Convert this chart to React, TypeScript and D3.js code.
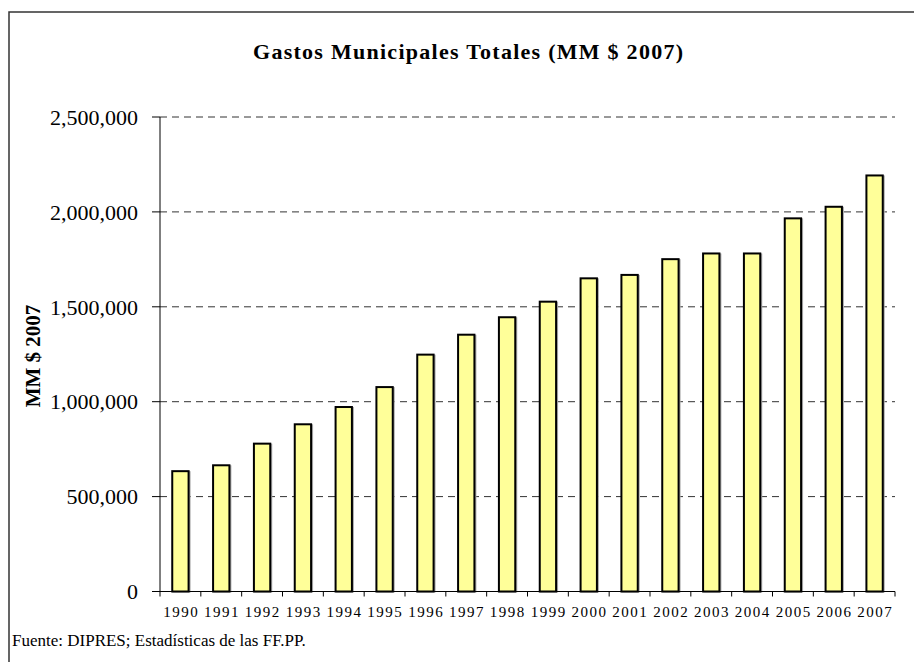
import React, { useEffect, useRef } from 'react';
import * as d3 from 'd3';

// --- data ---
const years = ['1990', '1991', '1992', '1993', '1994', '1995', '1996', '1997', '1998',
  '1999', '2000', '2001', '2002', '2003', '2004', '2005', '2006', '2007'];
const gastos = [634000, 665000, 779000, 881000, 972000, 1077000, 1248000, 1353000, 1445000,
  1527000, 1650000, 1668000, 1751000, 1781000, 1781000, 1966000, 2027000, 2192000];
const yTicks = [0, 500000, 1000000, 1500000, 2000000, 2500000];

const titleText = 'Gastos Municipales Totales (MM $ 2007)';
const yLabel = 'MM $ 2007';
const sourceText = 'Fuente: DIPRES; Estadísticas de las FF.PP.';

const W = 914;
const H = 662;
const FONT = '"Liberation Serif", "DejaVu Serif", serif';

export default function App() {
  const svgRef = useRef<SVGSVGElement>(null);

  useEffect(() => {
    const svg = d3.select(svgRef.current);
    svg.selectAll('*').remove();

    const left = 160, right = 895, top = 117, bottom = 591.5;

    const x = d3.scaleBand<string>()
      .domain(years)
      .range([left, right])
      .paddingInner(0.6)
      .paddingOuter(0.3);
    const step = (right - left) / years.length;

    const y = d3.scaleLinear().domain([0, 2500000]).range([bottom, top]);

    // outer frame (runs off the right / bottom edge like the original)
    svg.append('rect')
      .attr('x', 9).attr('y', 12)
      .attr('width', W).attr('height', H)
      .attr('fill', 'none')
      .attr('stroke', '#333')
      .attr('stroke-width', 1.5);

    // title
    svg.append('text')
      .attr('x', 468).attr('y', 59)
      .attr('text-anchor', 'middle')
      .attr('font-family', FONT)
      .attr('font-weight', 'bold')
      .attr('font-size', 22)
      .attr('textLength', 430)
      .attr('lengthAdjust', 'spacing')
      .text(titleText);

    // gridlines (dashed), skip the zero line
    svg.append('g')
      .selectAll('line')
      .data(yTicks.filter(d => d > 0))
      .join('line')
      .attr('x1', left).attr('x2', right)
      .attr('y1', d => y(d)).attr('y2', d => y(d))
      .attr('stroke', '#333')
      .attr('stroke-width', 1)
      .attr('stroke-dasharray', '7,5');

    // y axis
    const yAxis = svg.append('g');
    yAxis.append('line')
      .attr('x1', left).attr('x2', left)
      .attr('y1', top).attr('y2', bottom)
      .attr('stroke', '#000');
    yAxis.selectAll('line.tick')
      .data(yTicks)
      .join('line')
      .attr('class', 'tick')
      .attr('x1', left - 8).attr('x2', left)
      .attr('y1', d => y(d)).attr('y2', d => y(d))
      .attr('stroke', '#000');
    yAxis.selectAll('text')
      .data(yTicks)
      .join('text')
      .attr('x', 138)
      .attr('y', d => y(d))
      .attr('dy', '0.35em')
      .attr('text-anchor', 'end')
      .attr('font-family', FONT)
      .attr('font-size', 22)
      .text(d => d3.format(',')(d));

    // y axis title
    svg.append('text')
      .attr('transform', `translate(40,356) rotate(-90)`)
      .attr('text-anchor', 'middle')
      .attr('font-family', FONT)
      .attr('font-weight', 'bold')
      .attr('font-size', 21)
      .text(yLabel);

    // bars, with the faint grey halo of the original
    const bars = svg.append('g');
    bars.selectAll('rect.halo')
      .data(years)
      .join('rect')
      .attr('class', 'halo')
      .attr('x', d => x(d)! + 1)
      .attr('width', x.bandwidth())
      .attr('y', (d, i) => y(gastos[i]) + 1)
      .attr('height', (d, i) => bottom - y(gastos[i]) - 1)
      .attr('fill', 'none')
      .attr('stroke', '#aaa')
      .attr('stroke-width', 2);
    bars.selectAll('rect.bar')
      .data(years)
      .join('rect')
      .attr('class', 'bar')
      .attr('x', d => x(d)!)
      .attr('width', x.bandwidth())
      .attr('y', (d, i) => y(gastos[i]))
      .attr('height', (d, i) => bottom - y(gastos[i]))
      .attr('fill', '#FFFF99')
      .attr('stroke', '#000')
      .attr('stroke-width', 2);

    // x axis
    const xAxis = svg.append('g');
    xAxis.append('line')
      .attr('x1', left).attr('x2', right)
      .attr('y1', bottom).attr('y2', bottom)
      .attr('stroke', '#000');
    xAxis.selectAll('line.tick')
      .data(d3.range(years.length + 1))
      .join('line')
      .attr('class', 'tick')
      .attr('x1', i => left + i * step).attr('x2', i => left + i * step)
      .attr('y1', bottom).attr('y2', bottom + 5)
      .attr('stroke', '#000');
    xAxis.selectAll('text')
      .data(years)
      .join('text')
      .attr('x', d => x(d)! + x.bandwidth() / 2 + 0.75)
      .attr('y', 617)
      .attr('text-anchor', 'middle')
      .attr('font-family', FONT)
      .attr('font-size', 15)
      .attr('letter-spacing', 1.5)
      .text(d => d);

    // source note
    svg.append('text')
      .attr('x', 12).attr('y', 646)
      .attr('font-family', FONT)
      .attr('font-size', 17)
      .text(sourceText);
  }, []);

  return (
    <svg ref={svgRef} width={W} height={H}
      style={{ position: 'absolute', left: 0, top: 0, background: '#fff' }} />
  );
}
